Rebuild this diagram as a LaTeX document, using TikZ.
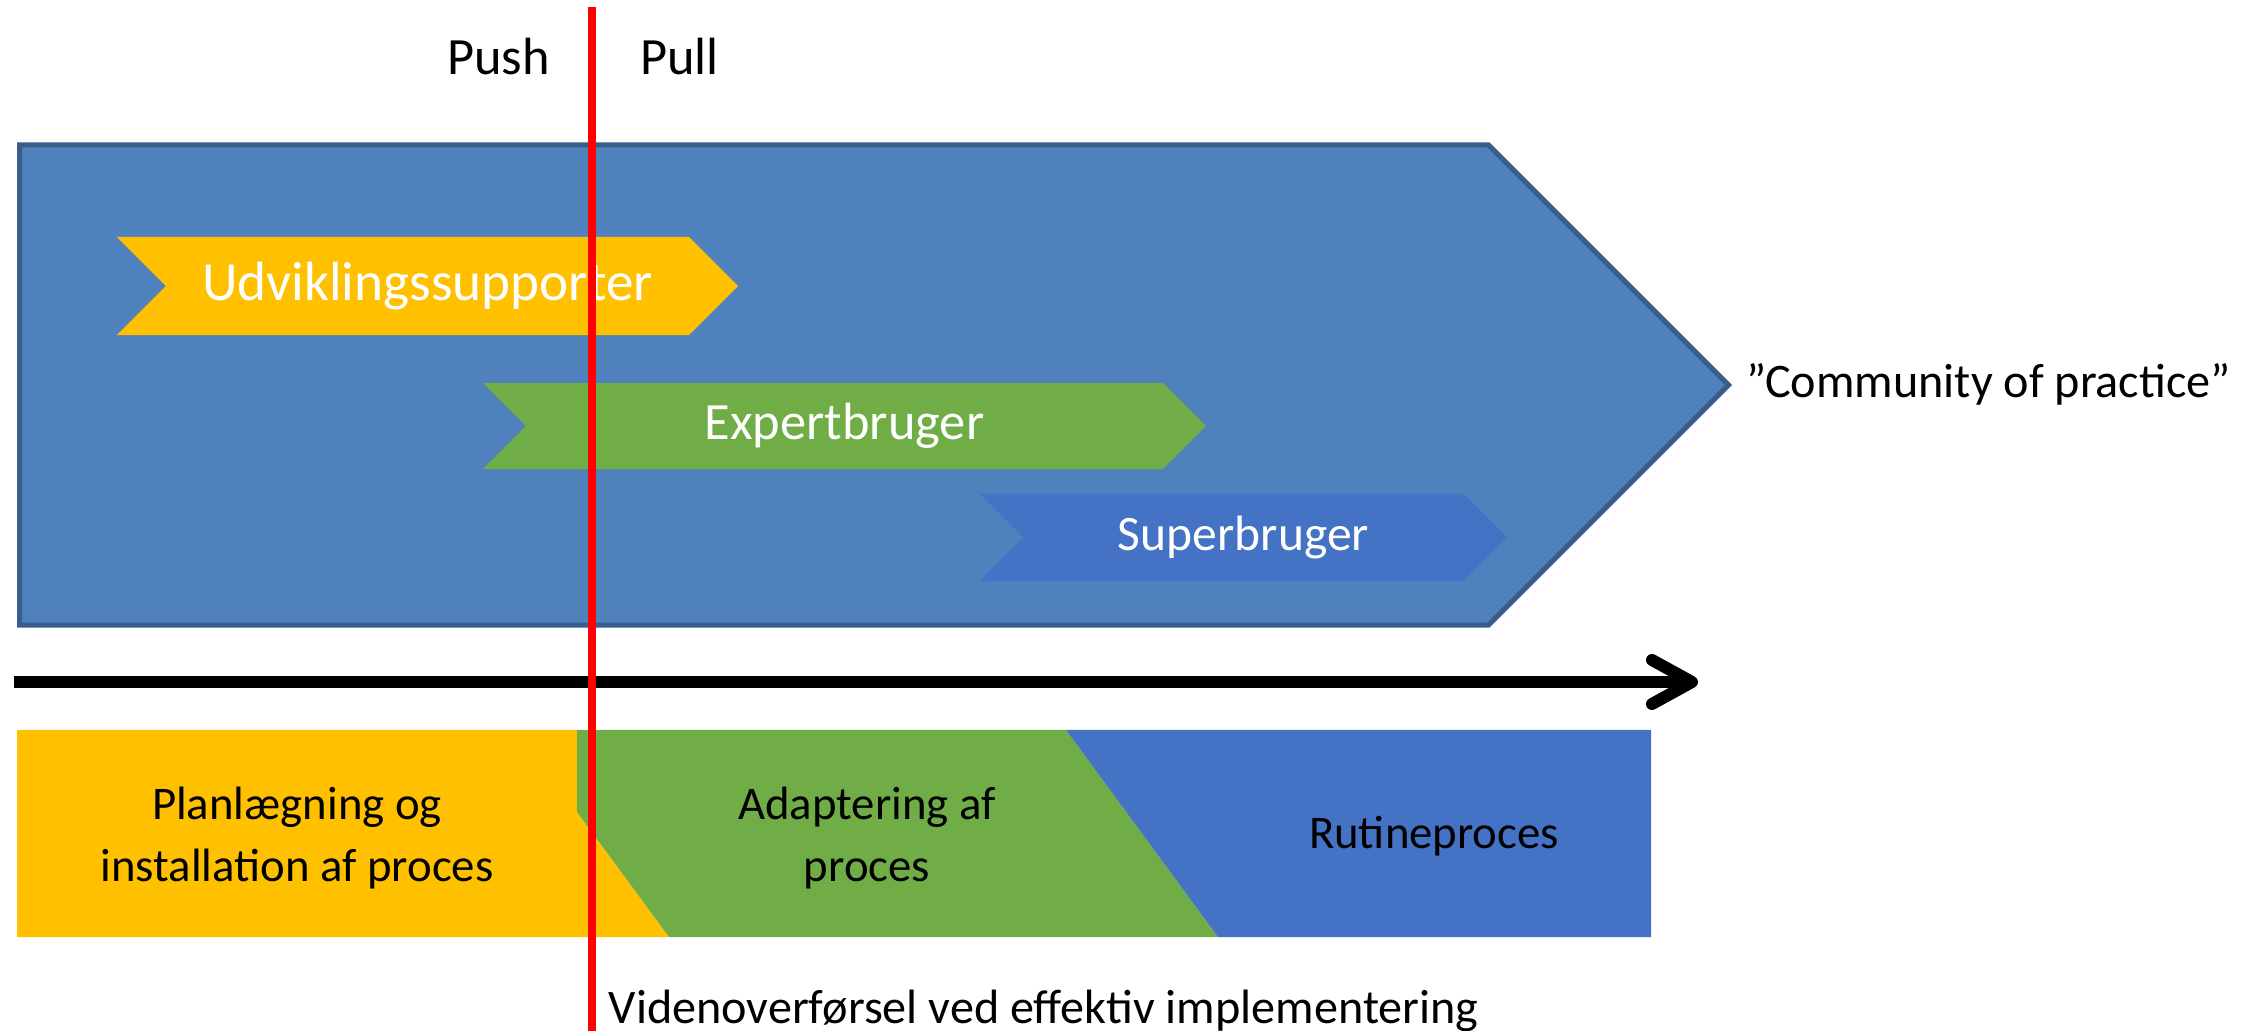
\documentclass[tikz,border=0pt]{standalone}
\usepackage{fontspec}
\setmainfont{Carlito}
\usetikzlibrary{arrows.meta,shapes.symbols}

\definecolor{bigblue}{HTML}{4F81BD}
\definecolor{bigedge}{HTML}{385D8A}
\definecolor{gold}{HTML}{FFC000}
\definecolor{leaf}{HTML}{70AD47}
\definecolor{royal}{HTML}{4472C4}

\tikzset{
    chevron/.style={signal, signal from=west, signal to=east, signal pointer angle=90, text=white, inner sep=0pt},
    words/.style={inner sep=0pt, text=black},
}

\begin{document}
\begin{tikzpicture}[x=0.01cm, y=-0.01cm]
    \useasboundingbox (0,0) rectangle (2248,1031);

    % big stage arrow
    \node[signal, signal from=nowhere, signal to=east, signal pointer angle=90, fill=bigblue, draw=bigedge, line width=0.05cm, inner sep=0pt, minimum width=17.08cm, minimum height=4.8cm, anchor=west] (stage) at (17,385) {};

    % roles
    \node[chevron, fill=gold, minimum width=6.21cm, minimum height=0.98cm, font=\fontsize{15.7}{18}\selectfont] (udv) at (427.5,286) {Udviklingssupporter};
    \node[chevron, fill=leaf, minimum width=7.23cm, minimum height=0.86cm, font=\fontsize{14.9}{18}\selectfont] (exp) at (844.5,426) {Expertbruger};
    \node[chevron, fill=royal, minimum width=5.27cm, minimum height=0.87cm, font=\fontsize{14.1}{18}\selectfont] (sup) at (1243.5,537.5) {Superbruger};

    \node[words, anchor=west, font=\fontsize{13.7}{18}\selectfont] (cop) at (1746,384) {”Community of practice”};

    % phases
    \fill[gold] (17,730) -- (577,730) -- (577,812) -- (669,937) -- (17,937) -- cycle;
    \fill[leaf] (577,730) -- (1066,730) -- (1218,937) -- (669,937) -- (577,812) -- cycle;
    \fill[royal] (1066,730) -- (1651,730) -- (1651,937) -- (1218,937) -- cycle;

    \node[words, align=center, font=\fontsize{13.3}{17.6}\selectfont] (plan) at (297,838) {Planlægning og\\installation af proces};
    \node[words, align=center, font=\fontsize{13.3}{17.6}\selectfont] (adapt) at (867,838) {Adaptering af\\proces};
    \node[words, font=\fontsize{13.3}{17.6}\selectfont] (rutine) at (1434,836) {Rutineproces};

    % time axis
    \coordinate (tstart) at (14,682);
    \coordinate (tend) at (1698,682);
    \draw[line width=0.12cm, -{Straight Barb[length=0.4cm, width=0.44cm, round]}] (tstart) -- (tend);

    % push / pull split
    \node[words, anchor=base, font=\fontsize{14.9}{18}\selectfont] (push) at (498.5,75) {Push};
    \node[words, anchor=base, font=\fontsize{14.9}{18}\selectfont] (pull) at (679.5,75) {Pull};
    \node[words, anchor=base west, font=\fontsize{13.7}{18}\selectfont] (caption) at (608,1023) {Videnoverførsel ved effektiv implementering};

    \coordinate (rtop) at (592,7);
    \coordinate (rbot) at (592,1031);
    \draw[red, line width=0.08cm] (rtop) -- (rbot);
\end{tikzpicture}
\end{document}
